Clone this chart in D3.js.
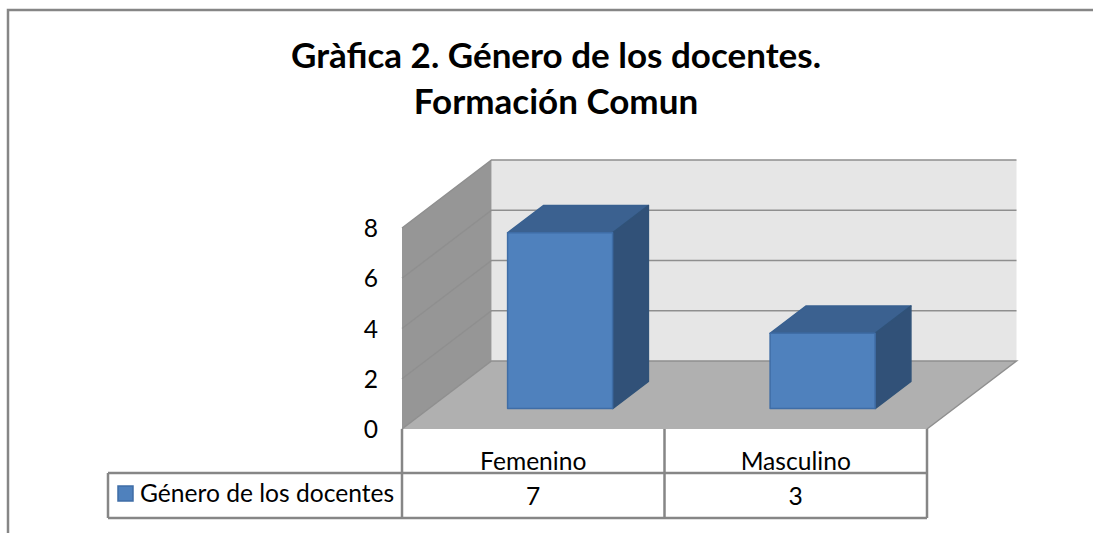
<!DOCTYPE html>
<html>
  <head>
    <meta charset="utf-8">
    <title>Género de los docentes</title>
    <script src="https://cdn.jsdelivr.net/npm/d3@7/dist/d3.min.js" charset="utf-8"></script>
<style>
html, body { margin: 0; padding: 0; background: #fff; }
svg { display: block; }
text { font-family: Lato, sans-serif; fill: #000; }
.title { font-size: 35px; font-weight: 700; text-anchor: middle; }
.lbl { font-size: 24.6px; }
.rule { stroke: #868686; stroke-width: 2.5; fill: none; }
.grid { stroke: #8f8f8f; stroke-width: 1.5; fill: none; }
</style>
  </head>
  <body>
    <svg></svg>
    <script>
      var categories = ["Femenino", "Masculino"];
      var values = [7, 3];
      var yTicks = [0, 2, 4, 6, 8];
      var seriesName = "Género de los docentes";
      var titleLines = ["Gràfica 2. Género de los docentes.", "Formación Comun"];

      var width = 1093;
      var height = 533;
      var svg = d3.select("svg").attr("width", width).attr("height", height);

      // front plane of the box, depth goes from 0 (front) to 1 (back wall)
      var x = d3.scaleBand().domain(categories).range([402, 927]);
      var y = d3.scaleLinear().domain([0, 8]).range([429, 228]);
      var depthX = d3.scaleLinear().domain([0, 1]).range([0, 89.5]);
      var depthY = d3.scaleLinear().domain([0, 1]).range([0, -68]);

      function pt(px, val, depth) {
        return [px + depthX(depth), y(val) + depthY(depth)];
      }
      var poly = d3.line();
      function face(points, fill, stroke) {
        return svg.append("path")
          .attr("d", poly(points) + "Z")
          .attr("fill", fill)
          .attr("stroke", stroke || "none")
          .attr("stroke-width", stroke ? 1.5 : 0)
          .attr("stroke-linejoin", "round");
      }

      // chart border
      svg.append("path").attr("class", "rule")
        .attr("d", "M8," + height + "V10H" + width);

      svg.selectAll(".title").data(titleLines).enter().append("text")
        .attr("class", "title")
        .attr("x", 556)
        .attr("y", function(d, i) { return 68 + i * 46; })
        .text(function(d) { return d; });

      var x0 = x.range()[0], x1 = x.range()[1];
      // walls and floor
      face([pt(x0, 0, 1), pt(x1, 0, 1), pt(x1, 8, 1), pt(x0, 8, 1)], "#e6e6e6");
      face([pt(x0, 0, 0), pt(x0, 0, 1), pt(x0, 8, 1), pt(x0, 8, 0)], "#969696");
      face([pt(x0, 0, 0), pt(x1, 0, 0), pt(x1, 0, 1), pt(x0, 0, 1)], "#b0b0b0");

      // gridlines run along the side wall then the back wall
      yTicks.forEach(function(t) {
        var pts = [pt(x0, t, 0), pt(x0, t, 1), pt(x1, t, 1)];
        if (t === 0) pts = [pt(x0, t, 0), pt(x0, t, 1), pt(x1, t, 1), pt(x1, t, 0)];
        svg.append("path").attr("class", "grid").attr("d", poly(pts));
      });

      svg.selectAll(".ytick").data(yTicks).enter().append("text")
        .attr("class", "lbl ytick")
        .attr("x", 371)
        .attr("y", function(d) { return y(d) + 9; })
        .attr("text-anchor", "middle")
        .text(function(d) { return d; });

      // bars
      var barFrac = 0.4;
      var depthFront = 0.3;
      var depthBack = 0.7;
      categories.forEach(function(c, i) {
        var bw = x.bandwidth() * barFrac;
        var left = x(c) + (x.bandwidth() - bw) / 2;
        var right = left + bw;
        var v = values[i];
        face([pt(left, v, depthFront), pt(right, v, depthFront), pt(right, v, depthBack), pt(left, v, depthBack)], "#3b6190", "#386090");
        face([pt(right, 0, depthFront), pt(right, 0, depthBack), pt(right, v, depthBack), pt(right, v, depthFront)], "#315178", "#305278");
        face([pt(left, 0, depthFront), pt(right, 0, depthFront), pt(right, v, depthFront), pt(left, v, depthFront)], "#4f81bd", "#3f6da6");
      });

      // data table
      var rowTop = 473, rowBottom = 518, legendLeft = 108;
      svg.append("path").attr("class", "rule")
        .attr("d", "M" + legendLeft + "," + rowTop + "H" + x1 + "M" + legendLeft + "," + rowBottom + "H" + x1 +
                   "M" + legendLeft + "," + rowTop + "V" + rowBottom);
      svg.selectAll(".vline").data(d3.range(categories.length + 1)).enter().append("line")
        .attr("class", "rule vline")
        .attr("x1", function(d) { return x0 + d * x.step(); })
        .attr("x2", function(d) { return x0 + d * x.step(); })
        .attr("y1", y(0))
        .attr("y2", rowBottom);

      svg.selectAll(".cat").data(categories).enter().append("text")
        .attr("class", "lbl cat")
        .attr("text-anchor", "middle")
        .attr("x", function(d) { return x(d) + x.bandwidth() / 2; })
        .attr("y", 470)
        .text(function(d) { return d; });

      svg.selectAll(".val").data(values).enter().append("text")
        .attr("class", "lbl val")
        .attr("text-anchor", "middle")
        .attr("x", function(d, i) { return x(categories[i]) + x.bandwidth() / 2; })
        .attr("y", 505)
        .text(function(d) { return d; });

      // legend key
      svg.append("rect")
        .attr("x", 118).attr("y", 486).attr("width", 15).attr("height", 15)
        .attr("fill", "#4f81bd").attr("stroke", "#3f6da6").attr("stroke-width", 1.5);
      svg.append("text").attr("class", "lbl")
        .attr("x", 140).attr("y", 502)
        .text(seriesName);
    </script>
  </body>
</html>
